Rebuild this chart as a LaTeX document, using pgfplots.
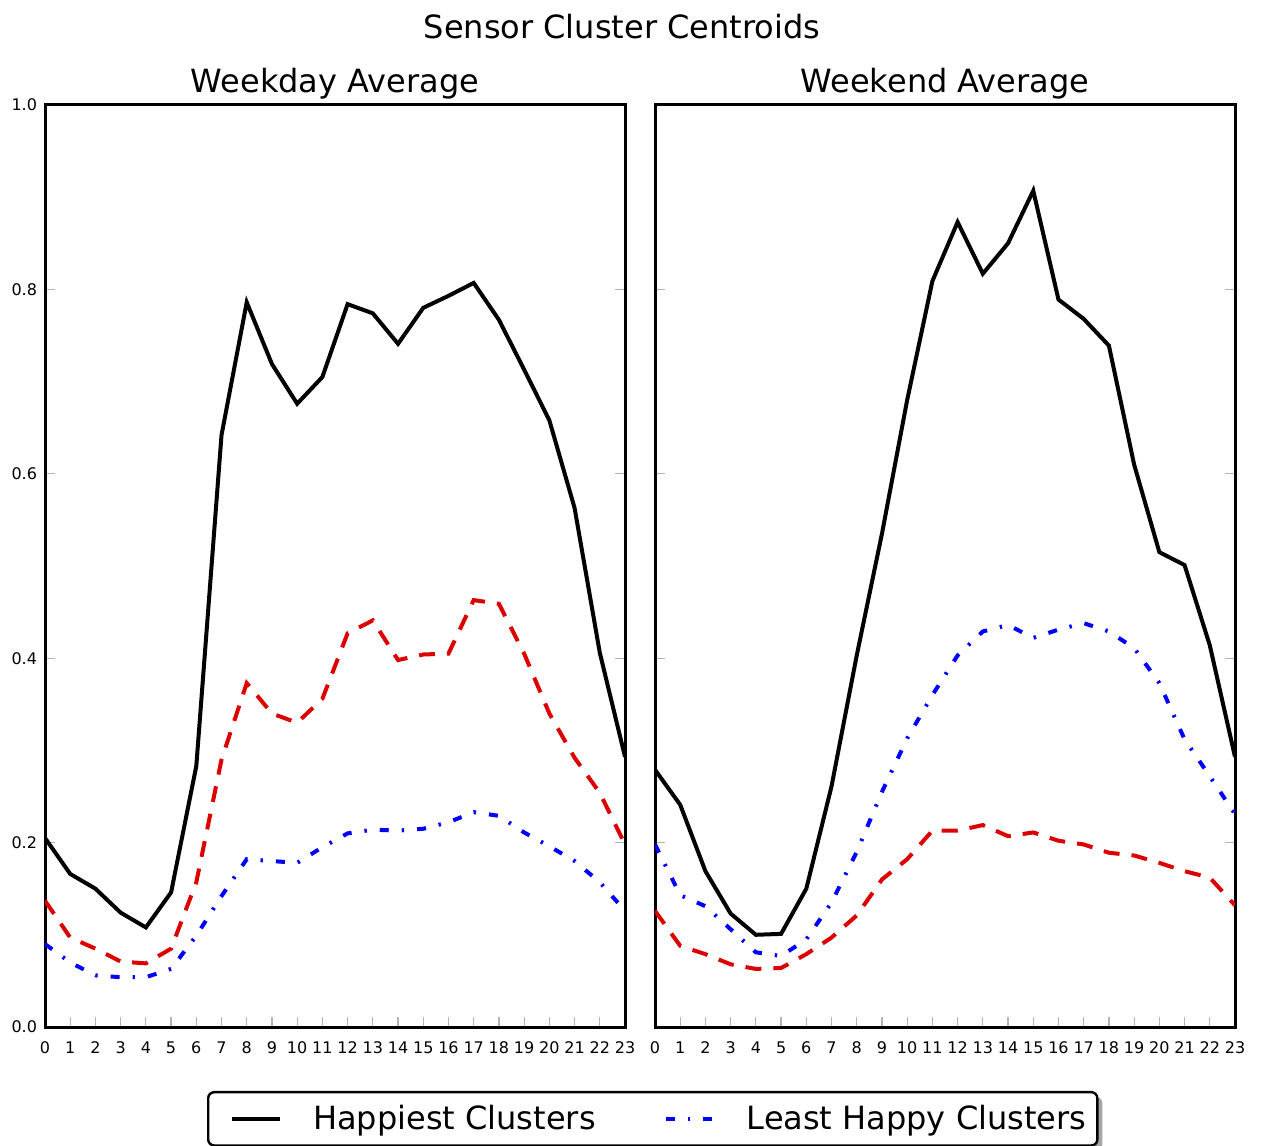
\documentclass[border=0pt]{standalone}
\usepackage{fontspec}
\setmainfont{DejaVu Sans}
\usepackage{pgfplots}
\usepackage{pgfplotstable}
\pgfplotsset{compat=1.18}
\usetikzlibrary{shadows}

\makeatletter
\tikzset{no preactions/.code={\let\tikz@preactions\pgfutil@empty}}
\makeatother

\definecolor{myred}{RGB}{220,0,0}
\definecolor{myblue}{RGB}{0,0,255}

\pgfplotstableread{
h happy mid least
0 0.205 0.137 0.090
1 0.166 0.097 0.070
2 0.150 0.085 0.056
3 0.124 0.071 0.054
4 0.108 0.069 0.054
5 0.146 0.085 0.063
6 0.283 0.157 0.099
7 0.642 0.290 0.142
8 0.786 0.373 0.182
9 0.719 0.340 0.180
10 0.676 0.330 0.178
11 0.705 0.356 0.195
12 0.784 0.427 0.210
13 0.774 0.441 0.214
14 0.741 0.398 0.213
15 0.780 0.404 0.215
16 0.793 0.405 0.222
17 0.807 0.463 0.233
18 0.767 0.459 0.229
19 0.713 0.405 0.211
20 0.658 0.340 0.196
21 0.563 0.292 0.180
22 0.406 0.254 0.157
23 0.293 0.198 0.126
}\weekday

\pgfplotstableread{
h happy mid least
0 0.279 0.126 0.198
1 0.241 0.088 0.143
2 0.169 0.079 0.131
3 0.123 0.068 0.106
4 0.100 0.063 0.081
5 0.101 0.064 0.077
6 0.150 0.079 0.095
7 0.261 0.097 0.135
8 0.403 0.121 0.190
9 0.535 0.160 0.255
10 0.680 0.182 0.313
11 0.809 0.213 0.360
12 0.873 0.213 0.403
13 0.817 0.219 0.429
14 0.850 0.207 0.436
15 0.907 0.211 0.422
16 0.789 0.202 0.431
17 0.768 0.198 0.438
18 0.739 0.189 0.429
19 0.610 0.186 0.411
20 0.515 0.178 0.373
21 0.501 0.169 0.312
22 0.414 0.162 0.272
23 0.293 0.132 0.231
}\weekend

\pgfplotsset{
 panel/.style={
  scale only axis, width=290bp, height=461bp,
  xmin=0, xmax=23, ymin=0, ymax=1,
  xtick={0,...,23}, ytick={0,0.2,0.4,0.6,0.8,1.0},
  axis line style={line width=1.5bp},
  tick style={line width=0.6bp, color=black!30},
  major tick length=5bp,
  xtick pos=bottom, ytick pos=both,
  tick label style={font=\fontsize{8bp}{9.6bp}\selectfont},
  /pgf/number format/assume math mode=true,
  yticklabel style={/pgf/number format/fixed, /pgf/number format/fixed zerofill, /pgf/number format/precision=1, xshift=-0.5bp},
  xticklabel style={yshift=-4bp},
  title style={at={(0.5,1)}, anchor=base, yshift=0.5bp, font=\fontsize{16bp}{19bp}\selectfont},
 },
 happy/.style={black, line width=2bp},
 mid/.style={myred, line width=2bp, dash pattern=on 8bp off 6bp},
 least/.style={myblue, line width=2bp, dash pattern=on 4.5bp off 6.5bp on 1.2bp off 6.5bp},
}

\begin{document}
\begin{tikzpicture}
\useasboundingbox (0,0) rectangle (631bp,573bp);
\node[anchor=base, font=\fontsize{16bp}{19bp}\selectfont] at (311bp,553.5bp) {Sensor Cluster Centroids};

\begin{axis}[panel, at={(22.5bp,59.5bp)}, anchor=south west, title={Weekday Average}]
\addplot[happy] table[x=h, y=happy] {\weekday};
\addplot[mid] table[x=h, y=mid] {\weekday};
\addplot[least] table[x=h, y=least] {\weekday};
\end{axis}

\begin{axis}[panel, at={(327.5bp,59.5bp)}, anchor=south west, title={Weekend Average},
  yticklabels={},
  legend columns=2,
  legend cell align=left,
  legend image code/.code={\path[no preactions] (0bp,0bp); \draw[no preactions, #1] (5.5bp,0bp) -- (29.5bp,0bp);},
  legend style={at={(-0.7724,-0.0694)}, anchor=north west, draw=black, line width=1.2bp,
    rounded corners=3bp, fill=white,
    drop shadow={shadow xshift=2.5bp, shadow yshift=-2.5bp, fill=black!35, opacity=1},
    inner xsep=5.5bp, inner ysep=4bp,
    font=\fontsize{16bp}{19bp}\selectfont,
    nodes={inner xsep=0pt, inner ysep=2.5bp},
    /tikz/every odd column/.append style={column sep=15.5bp},
    /tikz/every even column/.append style={column sep=28.5bp}},
]
\addplot[happy] table[x=h, y=happy] {\weekend};
\addlegendentry{Happiest Clusters}
\addplot[mid, forget plot] table[x=h, y=mid] {\weekend};
\addplot[least] table[x=h, y=least] {\weekend};
\addlegendentry{Least Happy Clusters}
\end{axis}
\end{tikzpicture}
\end{document}
